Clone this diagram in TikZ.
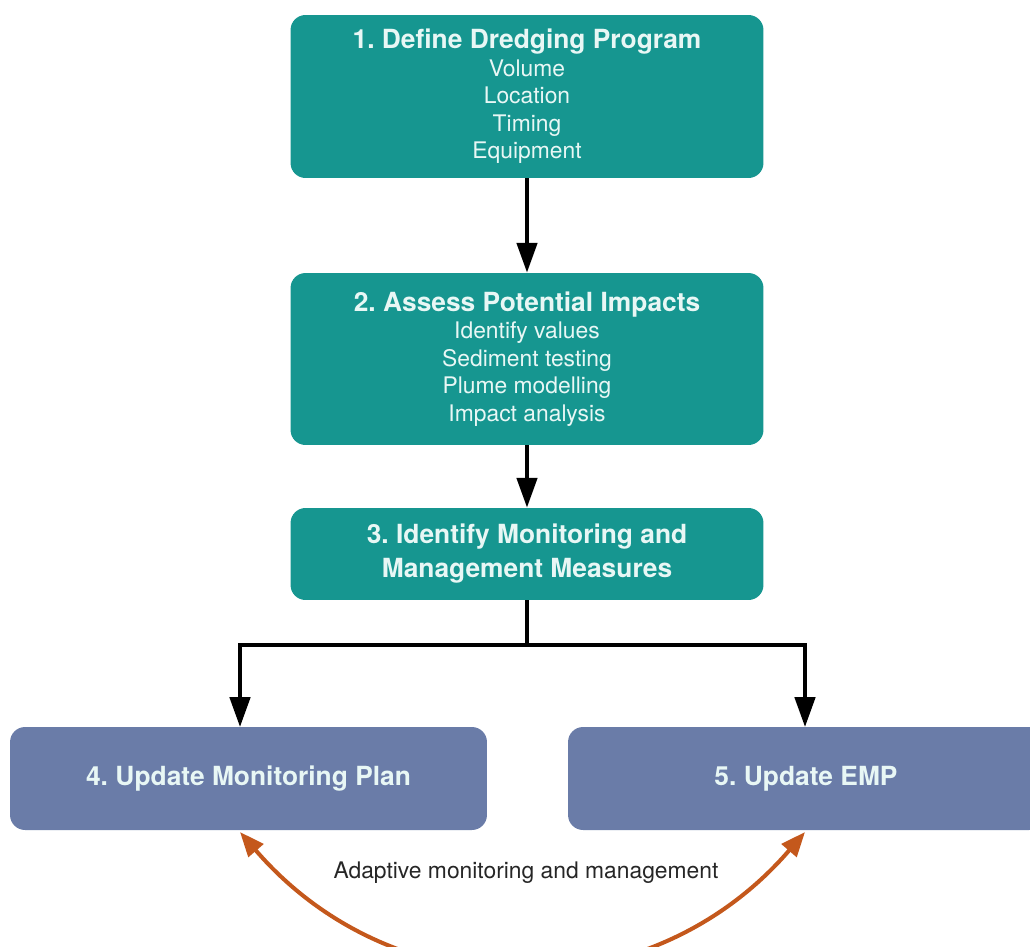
\documentclass[tikz,border=0pt]{standalone}
\usepackage{fontspec}
\setmainfont{TeX Gyre Heros}
\frenchspacing
\usetikzlibrary{arrows.meta}
\definecolor{stepteal}{RGB}{22,150,144}
\definecolor{planblue}{RGB}{106,124,168}
\definecolor{loopbrown}{RGB}{196,88,28}
\definecolor{boxtext}{RGB}{232,247,245}

\begin{document}
\begin{tikzpicture}[x=0.02cm,y=-0.02cm,
  stage/.style={fill=stepteal,rounded corners=0.3cm,text=boxtext,align=center,minimum width=9.46cm,font=\fontsize{13}{15.7}\selectfont},
  update/.style={fill=planblue,rounded corners=0.3cm,text=boxtext,minimum height=2.06cm,font=\fontsize{15}{18}\selectfont\bfseries},
  flow/.style={line width=2.3pt,-{Triangle[length=17pt,width=11.5pt]}},
  adapt/.style={line width=2.3pt,color=loopbrown,{Triangle[length=14pt,width=11pt]}-{Triangle[length=14pt,width=11pt]}}]
  \clip (0,0) rectangle (1030,946);

  % the three planning stages
  \node[stage,minimum height=3.26cm] (define) at (527,96.5) {{\fontsize{15}{15.7}\selectfont\bfseries 1. Define Dredging Program}\\Volume\\Location\\Timing\\Equipment};
  \node[stage,minimum height=3.44cm] (assess) at (527,359) {{\fontsize{15}{15.7}\selectfont\bfseries 2. Assess Potential Impacts}\\Identify values\\Sediment testing\\Plume modelling\\Impact analysis};
  \node[stage,minimum height=1.84cm,font=\fontsize{15}{19.3}\selectfont\bfseries] (measures) at (527,554) {3. Identify Monitoring and\\Management Measures};

  % the two updates
  \node[update,minimum width=9.54cm] (mplan) at (248.5,778.5) {4. Update Monitoring Plan};
  \node[update,minimum width=9.52cm] (emp) at (806,778.5) {5. Update EMP};

  \draw[flow] (define) -- (assess);
  \draw[flow] (assess) -- (measures);

  \coordinate (split) at (527,645);
  \coordinate (plantop) at (240,727);
  \coordinate (emptop) at (805,727);
  \draw[line width=2.3pt] (measures.south) -- (split);
  \draw[flow] (split) -| (plantop);
  \draw[flow] (split) -| (emptop);

  % adaptive loop
  \coordinate (planfoot) at (240,832);
  \coordinate (empfoot) at (805,832);
  \draw[adapt] (planfoot) .. controls (395,1012) and (650,1012) .. (empfoot);
  \node[text=black!85,font=\fontsize{13}{15.7}\selectfont] (adaptlabel) at (526,873) {Adaptive monitoring and management};
\end{tikzpicture}
\end{document}
